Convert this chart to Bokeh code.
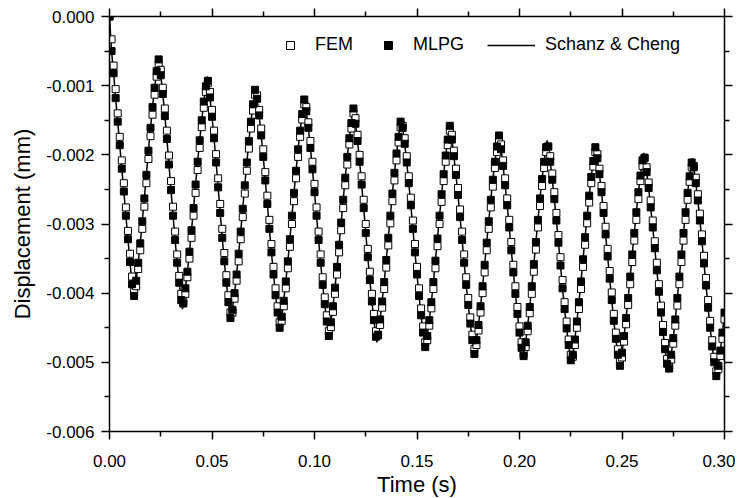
from bokeh.plotting import figure
from bokeh.models import (ColumnDataSource, LinearAxis, FixedTicker,
                          NumeralTickFormatter, Legend, LegendItem, Range1d,
                          CustomLabelingPolicy)
from bokeh.embed import file_html
from bokeh.resources import INLINE

# ---------------- data (time in ms, displacement in micrometres) ----------------
time_ms = [
    0, 1, 2, 3, 4, 5, 6, 7, 8, 9,
    10, 11, 12, 13, 14, 15, 16, 17, 18, 19,
    20, 21, 22, 23, 24, 25, 26, 27, 28, 29,
    30, 31, 32, 33, 34, 35, 36, 37, 38, 39,
    40, 41, 42, 43, 44, 45, 46, 47, 48, 49,
    50, 51, 52, 53, 54, 55, 56, 57, 58, 59,
    60, 61, 62, 63, 64, 65, 66, 67, 68, 69,
    70, 71, 72, 73, 74, 75, 76, 77, 78, 79,
    80, 81, 82, 83, 84, 85, 86, 87, 88, 89,
    90, 91, 92, 93, 94, 95, 96, 97, 98, 99,
    100, 101, 102, 103, 104, 105, 106, 107, 108, 109,
    110, 111, 112, 113, 114, 115, 116, 117, 118, 119,
    120, 121, 122, 123, 124, 125, 126, 127, 128, 129,
    130, 131, 132, 133, 134, 135, 136, 137, 138, 139,
    140, 141, 142, 143, 144, 145, 146, 147, 148, 149,
    150, 151, 152, 153, 154, 155, 156, 157, 158, 159,
    160, 161, 162, 163, 164, 165, 166, 167, 168, 169,
    170, 171, 172, 173, 174, 175, 176, 177, 178, 179,
    180, 181, 182, 183, 184, 185, 186, 187, 188, 189,
    190, 191, 192, 193, 194, 195, 196, 197, 198, 199,
    200, 201, 202, 203, 204, 205, 206, 207, 208, 209,
    210, 211, 212, 213, 214, 215, 216, 217, 218, 219,
    220, 221, 222, 223, 224, 225, 226, 227, 228, 229,
    230, 231, 232, 233, 234, 235, 236, 237, 238, 239,
    240, 241, 242, 243, 244, 245, 246, 247, 248, 249,
    250, 251, 252, 253, 254, 255, 256, 257, 258, 259,
    260, 261, 262, 263, 264, 265, 266, 267, 268, 269,
    270, 271, 272, 273, 274, 275, 276, 277, 278, 279,
    280, 281, 282, 283, 284, 285, 286, 287, 288, 289,
    290, 291, 292, 293, 294, 295, 296, 297, 298, 299,
    300,
]

mlpg_um = [
    0.00, -0.50, -0.82, -1.18, -1.52, -1.86, -2.20, -2.53, -2.88, -3.22,
    -3.55, -3.87, -4.04, -3.82, -3.56, -3.28, -2.96, -2.63, -2.29, -1.94,
    -1.61, -1.31, -1.03, -0.79, -0.62, -0.85, -1.12, -1.44, -1.77, -2.14,
    -2.51, -2.88, -3.23, -3.56, -3.85, -4.10, -4.15, -3.93, -3.69, -3.40,
    -3.09, -2.77, -2.43, -2.10, -1.79, -1.50, -1.23, -1.01, -0.93, -1.17,
    -1.45, -1.76, -2.11, -2.47, -2.84, -3.20, -3.54, -3.85, -4.13, -4.36,
    -4.24, -4.00, -3.73, -3.43, -3.11, -2.78, -2.44, -2.11, -1.80, -1.52,
    -1.27, -1.06, -1.19, -1.43, -1.72, -2.03, -2.37, -2.71, -3.07, -3.41,
    -3.73, -4.03, -4.28, -4.50, -4.34, -4.11, -3.83, -3.54, -3.22, -2.88,
    -2.55, -2.23, -1.92, -1.65, -1.41, -1.20, -1.37, -1.61, -1.90, -2.21,
    -2.54, -2.88, -3.23, -3.56, -3.88, -4.16, -4.41, -4.62, -4.42, -4.19,
    -3.92, -3.62, -3.30, -2.98, -2.65, -2.33, -2.03, -1.76, -1.54, -1.33,
    -1.55, -1.80, -2.10, -2.43, -2.77, -3.13, -3.48, -3.81, -4.12, -4.39,
    -4.63, -4.60, -4.38, -4.12, -3.84, -3.52, -3.20, -2.88, -2.56, -2.26,
    -1.98, -1.74, -1.52, -1.61, -1.84, -2.11, -2.41, -2.73, -3.07, -3.41,
    -3.73, -4.04, -4.32, -4.57, -4.78, -4.62, -4.39, -4.13, -3.84, -3.53,
    -3.21, -2.88, -2.57, -2.28, -2.01, -1.78, -1.58, -1.78, -2.02, -2.29,
    -2.58, -2.90, -3.23, -3.56, -3.88, -4.17, -4.44, -4.68, -4.88, -4.68,
    -4.46, -4.19, -3.90, -3.59, -3.27, -2.96, -2.65, -2.36, -2.10, -1.88,
    -1.72, -1.92, -2.16, -2.44, -2.73, -3.05, -3.38, -3.70, -4.01, -4.30,
    -4.57, -4.79, -4.91, -4.71, -4.47, -4.20, -3.90, -3.58, -3.26, -2.94,
    -2.63, -2.35, -2.10, -1.89, -1.88, -2.10, -2.36, -2.64, -2.95, -3.27,
    -3.60, -3.93, -4.23, -4.51, -4.75, -4.97, -4.89, -4.67, -4.41, -4.13,
    -3.83, -3.51, -3.19, -2.88, -2.59, -2.32, -2.09, -1.89, -2.05, -2.28,
    -2.54, -2.84, -3.15, -3.47, -3.79, -4.10, -4.40, -4.66, -4.89, -5.05,
    -4.86, -4.62, -4.36, -4.07, -3.76, -3.44, -3.13, -2.83, -2.54, -2.30,
    -2.08, -2.04, -2.25, -2.48, -2.76, -3.05, -3.35, -3.67, -3.98, -4.28,
    -4.56, -4.81, -5.02, -5.09, -4.89, -4.65, -4.38, -4.07, -3.76, -3.44,
    -3.13, -2.83, -2.55, -2.31, -2.11, -2.18, -2.41, -2.66, -2.95, -3.25,
    -3.57, -3.89, -4.21, -4.50, -4.77, -5.00, -5.20, -5.05, -4.83, -4.57,
    -4.28,
]

fem_um = [
    0.00, -0.33, -0.71, -1.05, -1.40, -1.74, -2.08, -2.41, -2.76, -3.10,
    -3.43, -3.76, -3.98, -3.90, -3.65, -3.38, -3.07, -2.75, -2.41, -2.06,
    -1.73, -1.42, -1.13, -0.87, -0.68, -0.77, -1.03, -1.33, -1.65, -2.01,
    -2.38, -2.75, -3.11, -3.44, -3.75, -4.01, -4.13, -4.01, -3.77, -3.50,
    -3.20, -2.88, -2.55, -2.22, -1.90, -1.60, -1.32, -1.09, -0.96, -1.09,
    -1.35, -1.65, -1.99, -2.34, -2.71, -3.07, -3.42, -3.74, -4.03, -4.28,
    -4.28, -4.08, -3.82, -3.54, -3.22, -2.90, -2.56, -2.23, -1.91, -1.62,
    -1.36, -1.13, -1.14, -1.35, -1.62, -1.92, -2.25, -2.59, -2.94, -3.29,
    -3.62, -3.93, -4.19, -4.42, -4.40, -4.19, -3.93, -3.64, -3.33, -3.00,
    -2.67, -2.34, -2.03, -1.74, -1.49, -1.27, -1.31, -1.53, -1.80, -2.10,
    -2.42, -2.76, -3.11, -3.44, -3.77, -4.06, -4.32, -4.55, -4.49, -4.27,
    -4.01, -3.73, -3.41, -3.09, -2.77, -2.44, -2.14, -1.85, -1.62, -1.40,
    -1.47, -1.71, -2.00, -2.31, -2.65, -3.00, -3.36, -3.69, -4.01, -4.30,
    -4.55, -4.61, -4.46, -4.21, -3.94, -3.63, -3.31, -2.99, -2.67, -2.37,
    -2.08, -1.82, -1.60, -1.58, -1.76, -2.02, -2.31, -2.62, -2.95, -3.29,
    -3.62, -3.93, -4.22, -4.48, -4.71, -4.68, -4.47, -4.22, -3.94, -3.64,
    -3.32, -3.00, -2.68, -2.38, -2.10, -1.86, -1.65, -1.71, -1.94, -2.20,
    -2.48, -2.79, -3.11, -3.44, -3.77, -4.07, -4.35, -4.60, -4.81, -4.75,
    -4.54, -4.28, -4.00, -3.70, -3.38, -3.07, -2.76, -2.46, -2.19, -1.96,
    -1.78, -1.85, -2.08, -2.34, -2.63, -2.94, -3.26, -3.59, -3.90, -4.20,
    -4.48, -4.71, -4.87, -4.78, -4.55, -4.29, -4.01, -3.69, -3.37, -3.05,
    -2.74, -2.45, -2.19, -1.96, -1.88, -2.02, -2.27, -2.54, -2.84, -3.16,
    -3.48, -3.81, -4.13, -4.41, -4.67, -4.89, -4.92, -4.75, -4.50, -4.23,
    -3.94, -3.62, -3.30, -2.99, -2.69, -2.41, -2.17, -1.96, -1.99, -2.20,
    -2.45, -2.74, -3.04, -3.36, -3.68, -3.99, -4.30, -4.57, -4.81, -4.99,
    -4.93, -4.70, -4.45, -4.17, -3.87, -3.55, -3.24, -2.94, -2.64, -2.38,
    -2.16, -2.05, -2.18, -2.40, -2.66, -2.95, -3.25, -3.56, -3.87, -4.18,
    -4.46, -4.72, -4.95, -5.07, -4.96, -4.73, -4.47, -4.18, -3.87, -3.55,
    -3.24, -2.94, -2.65, -2.39, -2.18, -2.16, -2.33, -2.57, -2.85, -3.15,
    -3.46, -3.78, -4.10, -4.40, -4.68, -4.92, -5.13, -5.10, -4.91, -4.66,
    -4.38,
]

# turning points of the analytical (Schanz & Cheng) curve
extrema_ms = [11.8, 23.9, 35.6, 47.7, 59.2, 71.2, 83.1, 95.1, 107.0, 119.0,
              130.4, 142.3, 154.1, 166.0, 178.0, 189.9, 201.8, 213.5, 225.3,
              237.1, 248.9, 260.6, 272.7, 284.3, 296.1]
extrema_um = [-4.07, -0.60, -4.23, -0.87, -4.40, -1.02, -4.52, -1.18, -4.62, -1.33,
              -4.71, -1.47, -4.80, -1.58, -4.88, -1.70, -4.95, -1.79, -5.02,
              -1.87, -5.07, -1.97, -5.15, -2.05, -5.22]

series_labels = ["FEM", "MLPG", "Schanz & Cheng"]

# axis ticks
x_major_ticks = [0.00, 0.05, 0.10, 0.15, 0.20, 0.25, 0.30]
x_minor_ticks = [0.025, 0.075, 0.125, 0.175, 0.225, 0.275]
y_major_ticks = [0.000, -0.001, -0.002, -0.003, -0.004, -0.005, -0.006]
y_minor_ticks = [-0.0005, -0.0015, -0.0025, -0.0035, -0.0045, -0.0055]

# ---------------- sources (unit conversion ms->s, um->mm) ----------------
t_s = [v / 1000.0 for v in time_ms]
mlpg_src = ColumnDataSource(dict(t=t_s, d=[v / 1000.0 for v in mlpg_um]))
fem_src = ColumnDataSource(dict(t=t_s, d=[v / 1000.0 for v in fem_um]))
pairs = sorted(list(zip(time_ms, mlpg_um)) + list(zip(extrema_ms, extrema_um)))
line_src = ColumnDataSource(dict(t=[a / 1000.0 for a, _ in pairs],
                                 d=[b / 1000.0 for _, b in pairs]))

FONT = "Liberation Sans"

p = figure(frame_width=615, frame_height=415,
           x_range=Range1d(0, 0.30), y_range=Range1d(-0.006, 0.0),
           output_backend="svg", toolbar_location=None,
           min_border_left=109, min_border_right=11,
           min_border_top=16, min_border_bottom=67,
           x_axis_label="Time (s)", y_axis_label="Displacement (mm)")
p.xgrid.visible = False
p.ygrid.visible = False
p.outline_line_color = None
p.background_fill_color = "white"

xticker = FixedTicker(ticks=x_major_ticks, minor_ticks=x_minor_ticks)
yticker = FixedTicker(ticks=y_major_ticks, minor_ticks=y_minor_ticks)

hide_all_labels = CustomLabelingPolicy(code="""
    for (const i of Array.from(indices)) { indices.unset(i) }
    return indices
""")


def style_axis(ax, labels=True):
    ax.axis_line_color = "black"
    ax.axis_line_width = 1.5
    ax.major_tick_line_color = "black"
    ax.major_tick_line_width = 1.5
    ax.minor_tick_line_color = "black"
    ax.minor_tick_line_width = 1.5
    ax.major_tick_in = 0
    ax.major_tick_out = 8
    ax.minor_tick_in = 0
    ax.minor_tick_out = 5
    if labels:
        ax.major_label_text_font = FONT
        ax.major_label_text_font_size = "17px"
        ax.major_label_text_color = "black"
        ax.axis_label_text_font = FONT
        ax.axis_label_text_font_size = "22px"
        ax.axis_label_text_font_style = "normal"
        ax.axis_label_text_color = "black"
    else:
        ax.major_label_policy = hide_all_labels
        ax.major_label_text_font_size = "0px"
        ax.major_label_standoff = 0
        ax.axis_label = None


xa = p.xaxis[0]
xa.ticker = xticker
xa.formatter = NumeralTickFormatter(format="0.00")
style_axis(xa)
xa.major_label_standoff = 15
xa.axis_label_standoff = 2

ya = p.yaxis[0]
ya.ticker = yticker
ya.formatter = NumeralTickFormatter(format="0.000")
style_axis(ya)
ya.major_label_standoff = 7
ya.axis_label_standoff = 8

top = LinearAxis(ticker=xticker)
style_axis(top, labels=False)
p.add_layout(top, "above")
right = LinearAxis(ticker=yticker)
style_axis(right, labels=False)
p.add_layout(right, "right")

r_line = p.line("t", "d", source=line_src, line_color="black", line_width=1.5)
r_fem = p.scatter("t", "d", source=fem_src, marker="square", size=7,
                  line_color="black", line_width=1, fill_color="white")
r_mlpg = p.scatter("t", "d", source=mlpg_src, marker="square", size=7,
                   line_color="black", line_width=1, fill_color="black")


def make_legend(label, renderer, x, y, glyph_w, standoff):
    return Legend(items=[LegendItem(label=label, renderers=[renderer])],
                  location=(x, y), orientation="horizontal",
                  glyph_width=glyph_w, glyph_height=20, label_height=20,
                  label_standoff=standoff, padding=0, margin=0, spacing=0,
                  border_line_alpha=0, background_fill_alpha=0,
                  label_text_font=FONT, label_text_font_size="18px",
                  label_text_color="black")


p.add_layout(make_legend(series_labels[0], r_fem, 171, 376, 20, 15))
p.add_layout(make_legend(series_labels[1], r_mlpg, 269, 376, 20, 15))
p.add_layout(make_legend(series_labels[2], r_line, 378, 376, 48, 10))

open("out.html", "w").write(file_html(p, INLINE))
